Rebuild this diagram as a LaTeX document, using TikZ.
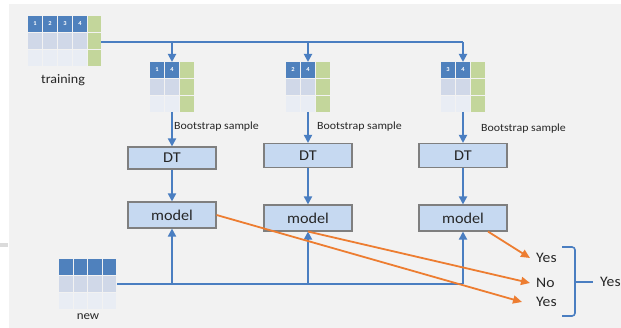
\documentclass[tikz,border=0pt]{standalone}
\usepackage{fontspec}
\setmainfont{Carlito}[FakeStretch=1.08]
\usetikzlibrary{arrows.meta}
\definecolor{bgc}{RGB}{242,242,242}
\definecolor{cdark}{RGB}{79,129,189}
\definecolor{cmid}{RGB}{208,216,232}
\definecolor{clight}{RGB}{233,237,244}
\definecolor{cgreen}{RGB}{195,214,155}
\definecolor{lblue}{RGB}{74,126,193}
\definecolor{boxfill}{RGB}{198,217,241}
\definecolor{boxline}{RGB}{127,127,127}
\definecolor{orng}{RGB}{237,125,49}
\definecolor{txt}{RGB}{38,38,38}
\begin{document}
\begin{tikzpicture}[x=1pt,y=-1pt,
  bl/.style={draw=lblue,line width=1.8pt},
  blarr/.style={bl,-{Triangle[length=8pt,width=8pt]}},
  ol/.style={draw=orng,line width=1.8pt,-{Triangle[length=9pt,width=8pt]}},
  procbox/.style={draw=boxline,line width=1.1pt,fill=boxfill,minimum width=88pt,minimum height=24pt,inner sep=0pt,text=txt,font=\fontsize{15}{17}\selectfont},
  numtxt/.style={text=white,font=\fontsize{6}{6}\selectfont\bfseries,inner sep=0pt},
  tabnode/.style={inner sep=0pt,outer sep=0pt},
  lbl/.style={text=txt,inner sep=1pt},
  bslbl/.style={lbl,anchor=west,font=\fontsize{11}{12}\selectfont},
  ans/.style={lbl,anchor=west,font=\fontsize{14.5}{16}\selectfont}
]
\useasboundingbox (0,0) rectangle (621,328);
\fill[white] (0,0) rectangle (621,328);
\fill[bgc] (9,4) rectangle (621,328);
\fill[black!14] (0,243) rectangle (8,247);

% training table
\foreach \i/\n in {0/1,1/2,2/3,3/4}{
  \fill[cdark] (28+15*\i,16) rectangle ++(14,16);
  \node[numtxt] at (35+15*\i,24) {\n};
  \fill[cmid] (28+15*\i,33) rectangle ++(14,16);
  \fill[clight] (28+15*\i,50) rectangle ++(14,16);
}
\foreach \r in {16,33,50}{\fill[cgreen] (88,\r) rectangle ++(13,16);}
\node[tabnode,minimum width=73pt,minimum height=50pt] (train) at (64.5,42) {};
\node[lbl,font=\fontsize{13}{15}\selectfont] (trainlbl) at (63,80) {training};

% bootstrap tables
\foreach \cx/\a/\k in {172/1/1,308/2/2,463/3/3}{
  \fill[cdark] (\cx-22,62) rectangle ++(14,16);
  \fill[cdark] (\cx-7,62) rectangle ++(14,16);
  \node[numtxt] at (\cx-15,70) {\a};
  \node[numtxt] at (\cx,70) {4};
  \fill[cmid] (\cx-22,79) rectangle ++(14,16);
  \fill[cmid] (\cx-7,79) rectangle ++(14,16);
  \fill[clight] (\cx-22,96) rectangle ++(14,16);
  \fill[clight] (\cx-7,96) rectangle ++(14,16);
  \foreach \r in {62,79,96}{\fill[cgreen] (\cx+8,\r) rectangle ++(14,16);}
  \node[tabnode,minimum width=44pt,minimum height=50pt] (tab\k) at (\cx,87) {};
}

% new table
\foreach \i in {0,1,2,3}{
  \fill[cdark] (59+14.5*\i,259) rectangle ++(13.5,16);
  \fill[cmid] (59+14.5*\i,276) rectangle ++(13.5,16);
  \fill[clight] (59+14.5*\i,293) rectangle ++(13.5,16);
}
\node[tabnode,minimum width=58pt,minimum height=50pt] (newt) at (88,284) {};
\node[lbl,font=\fontsize{12}{14}\selectfont] (newlbl) at (88,317) {new};

% DT and model boxes
\node[procbox,minimum height=22pt] (dt1) at (172,158) {DT};
\node[procbox] (dt2) at (308,155.5) {DT};
\node[procbox] (dt3) at (463,155.5) {DT};
\node[procbox,minimum height=26pt] (m1) at (172,215) {model};
\node[procbox,minimum height=26pt] (m2) at (308,218) {model};
\node[procbox,minimum height=26pt] (m3) at (463,218) {model};

% bootstrap labels
\node[bslbl] (bs1) at (173,127) {Bootstrap sample};
\node[bslbl] (bs2) at (316,127) {Bootstrap sample};
\node[bslbl] (bs3) at (480,129) {Bootstrap sample};

% training distribution
\draw[bl] (train.east) -- (tab3 |- train.east);
\draw[blarr] (tab3 |- train.east) -- (tab3.north);
\draw[blarr] (tab1 |- train.east) -- (tab1.north);
\draw[blarr] (tab2 |- train.east) -- (tab2.north);
\foreach \k in {1,2,3}{
  \draw[blarr] (tab\k.south) -- (dt\k.north);
  \draw[blarr] (dt\k.south) -- (m\k.north);
}

% new data distribution
\draw[bl] (newt.east) -- (m3 |- newt.east);
\foreach \k in {1,2,3}{\draw[blarr] (m\k |- newt.east) -- (m\k.south);}

% answers
\node[ans] (yes1) at (535,258) {Yes};
\node[ans] (no) at (535,283) {No};
\node[ans] (yes2) at (535,302) {Yes};
\draw[ol] ([xshift=25pt]m3.south) -- ([xshift=-5pt]yes1.west);
\draw[ol] (m2.south) -- ([xshift=-5pt]no.west);
\draw[ol] (m1.east) -- ([xshift=-13pt]yes2.west);

% brace
\draw[bl,line width=1.6pt,rounded corners=3pt] (562,247) -- (575,247) -- (575,316) -- (562,316);
\coordinate (bracetip) at (575,282);
\coordinate (braceend) at (593,282);
\draw[bl,line width=1.6pt] (bracetip) -- (braceend);
\node[ans] (yesf) at (599,282) {Yes};
\end{tikzpicture}
\end{document}
